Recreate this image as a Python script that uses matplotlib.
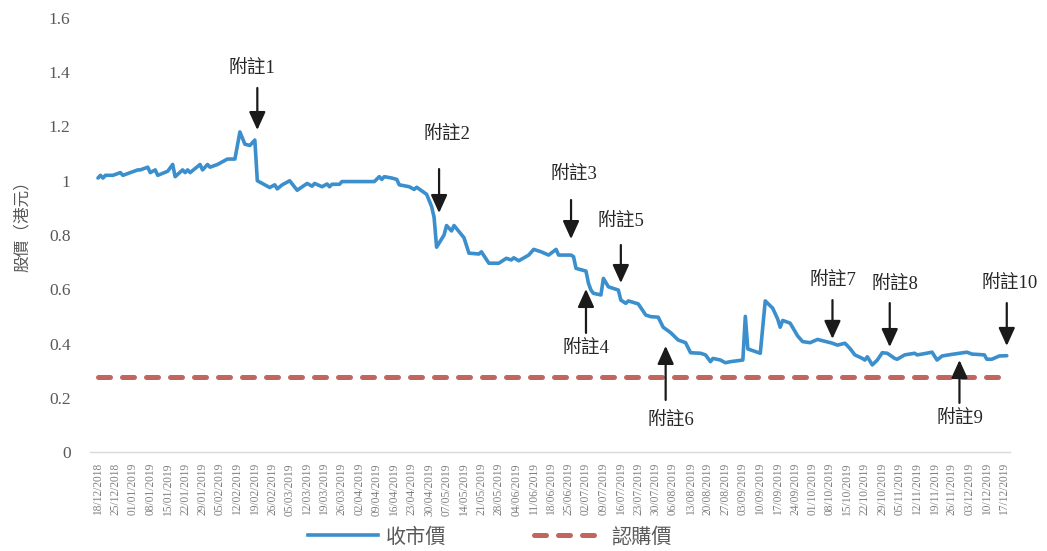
import matplotlib
matplotlib.use('Agg')
import matplotlib.pyplot as plt
import matplotlib.dates as mdates
from matplotlib.lines import Line2D
import pandas as pd

plt.rcParams['font.family'] = ['Liberation Serif', 'Noto Sans CJK TC', 'DejaVu Sans']

close_dates = [
    '2018-12-18', '2018-12-19', '2018-12-20', '2018-12-21', '2018-12-24', '2018-12-27', '2018-12-28',
    '2019-01-03', '2019-01-04', '2019-01-07', '2019-01-08', '2019-01-10', '2019-01-11', '2019-01-15',
    '2019-01-17', '2019-01-18', '2019-01-21', '2019-01-22', '2019-01-23', '2019-01-24', '2019-01-28',
    '2019-01-29', '2019-01-31', '2019-02-01', '2019-02-04', '2019-02-08', '2019-02-11', '2019-02-13',
    '2019-02-15', '2019-02-17', '2019-02-19', '2019-02-20', '2019-02-22', '2019-02-25', '2019-02-27',
    '2019-02-28', '2019-03-02', '2019-03-05', '2019-03-08', '2019-03-12', '2019-03-14', '2019-03-15',
    '2019-03-18', '2019-03-20', '2019-03-21', '2019-03-22', '2019-03-25', '2019-03-26', '2019-04-08',
    '2019-04-10', '2019-04-11', '2019-04-12', '2019-04-15', '2019-04-17', '2019-04-18', '2019-04-22',
    '2019-04-24', '2019-04-25', '2019-04-29', '2019-05-01', '2019-05-02', '2019-05-03', '2019-05-06',
    '2019-05-07', '2019-05-09', '2019-05-10', '2019-05-14', '2019-05-16', '2019-05-20', '2019-05-21',
    '2019-05-24', '2019-05-28', '2019-05-31', '2019-06-02', '2019-06-03', '2019-06-05', '2019-06-09',
    '2019-06-11', '2019-06-14', '2019-06-17', '2019-06-20', '2019-06-21', '2019-06-26', '2019-06-27',
    '2019-06-28', '2019-07-02', '2019-07-03', '2019-07-04', '2019-07-05', '2019-07-08', '2019-07-09',
    '2019-07-11', '2019-07-15', '2019-07-16', '2019-07-18', '2019-07-19', '2019-07-23', '2019-07-26',
    '2019-07-28', '2019-07-31', '2019-08-02', '2019-08-05', '2019-08-08', '2019-08-11', '2019-08-13',
    '2019-08-17', '2019-08-19', '2019-08-21', '2019-08-22', '2019-08-25', '2019-08-27', '2019-08-29',
    '2019-09-03', '2019-09-04', '2019-09-05', '2019-09-10', '2019-09-12', '2019-09-15', '2019-09-17',
    '2019-09-18', '2019-09-19', '2019-09-22', '2019-09-25', '2019-09-27', '2019-09-30', '2019-10-03',
    '2019-10-09', '2019-10-11', '2019-10-14', '2019-10-16', '2019-10-18', '2019-10-21', '2019-10-22',
    '2019-10-23', '2019-10-25', '2019-10-27', '2019-10-29', '2019-10-31', '2019-11-03', '2019-11-04',
    '2019-11-07', '2019-11-11', '2019-11-12', '2019-11-14', '2019-11-18', '2019-11-20', '2019-11-22',
    '2019-11-26', '2019-12-02', '2019-12-04', '2019-12-09', '2019-12-10', '2019-12-12', '2019-12-15',
    '2019-12-18',
]
close_prices = [
    1.01, 1.02, 1.01, 1.02, 1.02, 1.03, 1.02,
    1.04, 1.04, 1.05, 1.03, 1.04, 1.02, 1.035,
    1.06, 1.015, 1.04, 1.03, 1.04, 1.03, 1.06,
    1.04, 1.06, 1.05, 1.06, 1.08, 1.08, 1.18,
    1.135, 1.13, 1.15, 1.00, 0.99, 0.975, 0.985,
    0.97, 0.985, 1.00, 0.965, 0.99, 0.98, 0.99,
    0.978, 0.988, 0.978, 0.987, 0.987, 0.997, 0.997,
    1.015, 1.005, 1.015, 1.01, 1.005, 0.985, 0.978,
    0.968, 0.976, 0.95, 0.905, 0.865, 0.755, 0.80,
    0.835, 0.815, 0.835, 0.79, 0.733, 0.73, 0.738,
    0.696, 0.696, 0.714, 0.708, 0.716, 0.705, 0.726,
    0.747, 0.738, 0.726, 0.747, 0.726, 0.726, 0.72,
    0.677, 0.667, 0.622, 0.597, 0.585, 0.579, 0.64,
    0.609, 0.597, 0.56, 0.548, 0.557, 0.546, 0.505,
    0.499, 0.497, 0.46, 0.44, 0.413, 0.403, 0.366,
    0.364, 0.358, 0.333, 0.345, 0.339, 0.329, 0.333,
    0.339, 0.50, 0.38, 0.364, 0.557, 0.53, 0.49,
    0.46, 0.485, 0.475, 0.428, 0.407, 0.403, 0.415,
    0.401, 0.394, 0.401, 0.382, 0.358, 0.345, 0.339,
    0.351, 0.321, 0.339, 0.366, 0.364, 0.345, 0.342,
    0.358, 0.364, 0.358, 0.361, 0.368, 0.339, 0.354,
    0.36, 0.368, 0.361, 0.358, 0.342, 0.342, 0.354,
    0.355,
]
subscription_price = 0.275
tick_start = '2018-12-18'
tick_end = '2019-12-17'

note_labels = ['附註1', '附註2', '附註3', '附註4', '附註5', '附註6', '附註7', '附註8', '附註9', '附註10']
note_dates = ['2019-02-20', '2019-05-04', '2019-06-26', '2019-07-02', '2019-07-16',
              '2019-08-03', '2019-10-09', '2019-11-01', '2019-11-29', '2019-12-18']
note_tips = [1.187, 0.881, 0.785, 0.601, 0.623, 0.391, 0.417, 0.387, 0.339, 0.391]
note_tails = [1.342, 1.043, 0.929, 0.439, 0.763, 0.192, 0.560, 0.549, 0.181, 0.549]
note_text_dates = ['2019-02-18', '2019-05-07', '2019-06-27', '2019-07-02', '2019-07-16',
                   '2019-08-05', '2019-10-09', '2019-11-03', '2019-11-29', '2019-12-19']
note_text_y = [1.416, 1.172, 1.025, 0.383, 0.852, 0.118, 0.634, 0.619, 0.125, 0.623]

x = pd.to_datetime(close_dates)
start = pd.Timestamp(tick_start)

fig = plt.figure(figsize=(10.47, 5.51), dpi=100)
ax = fig.add_axes([90/1047, 1 - 452/551, 920/1047, (452 - 18)/551])

blue = '#3A8FCC'
red = '#C0665F'
ax.plot(x, close_prices, color=blue, lw=2.6, solid_joinstyle='round', solid_capstyle='round', zorder=3)
ax.plot([start, x[-1]], [subscription_price, subscription_price], color=red, lw=3.6,
        dashes=(2.4, 2.4), dash_capstyle='round', zorder=2)

ax.set_xlim(start - pd.Timedelta(days=3.2), start + pd.Timedelta(days=366.3))
ax.set_ylim(0, 1.6)
ax.set_yticks([0, 0.2, 0.4, 0.6, 0.8, 1.0, 1.2, 1.4, 1.6])
ax.set_yticklabels(['0', '0.2', '0.4', '0.6', '0.8', '1', '1.2', '1.4', '1.6'])
ticks = pd.date_range(tick_start, tick_end, freq='7D')
ax.set_xticks(ticks)
ax.set_xticklabels([t.strftime('%d/%m/%Y') for t in ticks], rotation=90, fontsize=8.3, color='#7F7F7F')
ax.tick_params(axis='x', length=0, pad=8)
ax.tick_params(axis='y', length=0, pad=14, labelsize=12.5, labelcolor='#595959')
for s in ['top', 'right', 'left']:
    ax.spines[s].set_visible(False)
ax.spines['bottom'].set_color('#D9D9D9')
ax.spines['bottom'].set_linewidth(1.0)

fig.text(23/1047, 1 - 222/551, '股價（港元）', rotation=90, ha='center', va='center',
         fontsize=12, color='#595959')

for lab, d, tip, tail, td, ty in zip(note_labels, note_dates, note_tips, note_tails, note_text_dates, note_text_y):
    dd = pd.Timestamp(d)
    ax.annotate('', xy=(dd, tip), xytext=(dd, tail),
                arrowprops=dict(arrowstyle='-|>,head_length=0.55,head_width=0.25', mutation_scale=20,
                                color='#1A1A1A', lw=1.6, shrinkA=0, shrinkB=0), zorder=5)
    ax.text(pd.Timestamp(td), ty, lab, ha='center', va='center', fontsize=13.5, color='#262626', zorder=5)

handles = [Line2D([], [], color=blue, lw=2.6),
           Line2D([], [], color=red, lw=3.6, dashes=(2.4, 2.4), dash_capstyle='round')]
fig.legend(handles, ['收市價', '認購價'], loc='center', bbox_to_anchor=(0.468, 0.024), ncol=2,
           frameon=False, fontsize=14.5, handlelength=3.45, columnspacing=4.35, handletextpad=0.4,
           labelcolor='#595959')

fig.savefig('out.png', dpi=100)
